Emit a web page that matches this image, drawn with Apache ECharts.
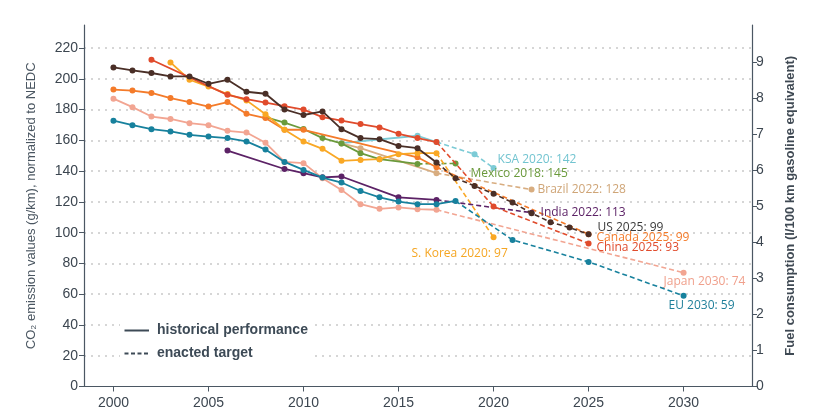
<!DOCTYPE html>
<html><head><meta charset="utf-8">
<script src="https://cdn.jsdelivr.net/npm/echarts@6/dist/echarts.min.js"></script>
<style>html,body{margin:0;padding:0;background:#fff}#c{width:832px;height:420px}</style>
</head><body><div id="c"></div>
<script>
// ---- tick labels ----
const xTicks = [2000, 2005, 2010, 2015, 2020, 2025, 2030];
const yTicks = [0, 20, 40, 60, 80, 100, 120, 140, 160, 180, 200, 220];
const fuelTicks = [0, 1, 2, 3, 4, 5, 6, 7, 8, 9];
const gridValues = [20, 40, 60, 80, 100, 120, 140, 160, 180, 200, 220];
const CO2_PER_FUEL = 23.4; // g/km per l/100 km
const yMax = 235;

// ---- historical performance ----
const usYears = [2000,2001,2002,2003,2004,2005,2006,2007,2008,2009,2010,2011,2012,2013,2014,2015,2016,2017];
const usValues = [207.4,205.5,203.8,201.6,201.6,196.8,199.4,191.6,190.3,180.1,176.5,178.8,167.3,161.5,160.8,156.4,154.9,145.6];
const chinaYears = [2002,2006,2007,2008,2009,2010,2011,2012,2013,2014,2015,2016,2017];
const chinaValues = [212.4,189.6,186.8,184.6,182.2,180.0,175.1,172.9,170.6,168.4,164.3,161.5,158.9];
const canadaYears = [2000,2001,2002,2003,2004,2005,2006,2007,2008,2009,2010,2016,2017];
const canadaValues = [193.0,192.4,190.8,187.5,184.9,182.0,184.9,177.3,174.5,166.9,166.9,149.0,142.5];
const koreaYears = [2003,2004,2005,2006,2007,2008,2009,2010,2011,2012,2013,2014,2015,2016,2017];
const koreaValues = [210.7,199.4,195.0,190.1,186.0,177.0,166.9,159.3,154.5,146.7,147.3,147.8,151.0,151.7,151.7];
const mexicoYears = [2008,2009,2010,2011,2012,2013,2014,2016];
const mexicoValues = [175.1,171.6,167.4,161.5,158.0,151.7,147.8,144.7];
const ksaYears = [2012,2016,2017];
const ksaValues = [158.2,163.0,158.9];
const brazilYears = [2012,2013,2017];
const brazilValues = [158.0,154.9,138.7];
const indiaYears = [2006,2009,2010,2011,2012,2015,2017];
const indiaValues = [153.4,141.4,138.7,136.0,136.5,123.0,121.3];
const euYears = [2000,2001,2002,2003,2004,2005,2006,2007,2008,2009,2010,2011,2012,2013,2014,2015,2016,2017,2018];
const euValues = [172.8,169.9,167.3,165.8,163.6,162.5,161.5,159.3,154.0,146.0,140.8,135.8,132.6,127.1,123.0,120.2,118.5,118.5,120.6];
const japanYears = [2000,2001,2002,2003,2004,2005,2006,2007,2008,2009,2010,2011,2012,2013,2014,2015,2016,2017];
const japanValues = [187.1,181.6,175.5,173.9,171.2,169.9,166.2,165.1,158.4,146.0,145.2,135.4,127.8,118.5,115.5,116.4,115.3,114.9];

// ---- enacted targets ----
const usTargetYears = [2017,2018,2019,2020,2021,2022,2023,2024,2025];
const usTargetValues = [145.6,135.4,130.4,125.3,119.6,112.7,106.8,103.3,99];
const chinaTargetYears = [2017,2020,2025];
const chinaTargetValues = [158.9,117.0,93];
const canadaTargetYears = [2017,2025];
const canadaTargetValues = [142.5,99];
const koreaTargetYears = [2017,2020];
const koreaTargetValues = [151.7,97];
const mexicoTargetYears = [2016,2018];
const mexicoTargetValues = [144.7,145];
const ksaTargetYears = [2017,2019,2020];
const ksaTargetValues = [158.9,151.0,142];
const brazilTargetYears = [2017,2022];
const brazilTargetValues = [138.7,128];
const indiaTargetYears = [2017,2022];
const indiaTargetValues = [121.3,113];
const euTargetYears = [2018,2021,2025,2030];
const euTargetValues = [120.6,95.3,81.0,59];
const japanTargetYears = [2017,2030];
const japanTargetValues = [114.9,74];

// ---- styles ----
const countries = [
  {name:'KSA', color:'#7ccbd6', text:'#72c4d0', hy:ksaYears, hv:ksaValues, ty:ksaTargetYears, tv:ksaTargetValues, off:[1,-8]},
  {name:'Brazil', color:'#d8ad80', text:'#cfa577', hy:brazilYears, hv:brazilValues, ty:brazilTargetYears, tv:brazilTargetValues, off:[3,0]},
  {name:'Mexico', color:'#6b9a3c', text:'#6b9a3c', hy:mexicoYears, hv:mexicoValues, ty:mexicoTargetYears, tv:mexicoTargetValues, off:[12,10]},
  {name:'Canada', color:'#f47b2a', text:'#f47b2a', hy:canadaYears, hv:canadaValues, ty:canadaTargetYears, tv:canadaTargetValues, off:[5,3]},
  {name:'S. Korea', color:'#f9a825', text:'#f5a623', hy:koreaYears, hv:koreaValues, ty:koreaTargetYears, tv:koreaTargetValues, off:[-85,16]},
  {name:'India', color:'#5c2266', text:'#5c2266', hy:indiaYears, hv:indiaValues, ty:indiaTargetYears, tv:indiaTargetValues, off:[6,0]},
  {name:'Japan', color:'#f2a592', text:'#f0a08c', hy:japanYears, hv:japanValues, ty:japanTargetYears, tv:japanTargetValues, off:[-23,9]},
  {name:'EU', color:'#17819d', text:'#1f7f9a', hy:euYears, hv:euValues, ty:euTargetYears, tv:euTargetValues, off:[-18,10]},
  {name:'China', color:'#e04b2c', text:'#e04b2c', hy:chinaYears, hv:chinaValues, ty:chinaTargetYears, tv:chinaTargetValues, off:[5,4]},
  {name:'US', color:'#4a2f27', text:'#3a3a3a', hy:usYears, hv:usValues, ty:usTargetYears, tv:usTargetValues, off:[6,-7]}
];

const series = [];
// gridlines via markLine on a carrier series
series.push({
  type:'line', data:[], silent:true, z:0,
  markLine:{silent:true, symbol:'none', z:0, label:{show:false},
    lineStyle:{color:'#c9c9c9', type:[2,5], width:1.6},
    data: gridValues.map(v => ({yAxis:v}))}
});
countries.forEach((c, i) => {
  series.push({
    type:'line', name:c.name+' hist', z:3+i,
    data: c.hy.map((y, k) => [y, c.hv[k]]),
    symbol:'circle', symbolSize:6, showSymbol:true,
    lineStyle:{color:c.color, width:1.8},
    itemStyle:{color:c.color},
    animation:false
  });
  const n = c.ty.length;
  series.push({
    type:'line', name:c.name+' target', z:3+i,
    data: c.ty.map((y, k) => {
      const d = {value:[y, c.tv[k]]};
      if (k === 0) d.symbolSize = 0;
      if (k === n - 1) {
        d.label = {show:true, position:'right', distance:0, offset:c.off,
          formatter: c.name + ' ' + y + ': ' + c.tv[k],
          color:c.text, fontFamily:'Open Sans', fontSize:12};
      }
      return d;
    }),
    symbol:'circle', symbolSize:6, showSymbol:true,
    lineStyle:{color:c.color, width:1.6, type:[5,3]},
    itemStyle:{color:c.color},
    animation:false
  });
});

const axisColor = '#4b5763';
const labelColor = '#3c4650';
const chart = echarts.init(document.getElementById('c'), null, {renderer:'canvas'});
chart.setOption({
  animation:false,
  backgroundColor:'#fff',
  grid:{left:84, right:80, top:25, bottom:33.5, containLabel:false},
  xAxis:{type:'value', min:1998.45, max:2033.6,
    axisLine:{show:true, lineStyle:{color:axisColor, width:1.2}},
    axisTick:{show:true, length:5, customValues:xTicks, lineStyle:{color:axisColor}},
    axisLabel:{customValues:xTicks, formatter: v => String(v), color:labelColor, fontSize:14, fontFamily:'Liberation Sans', margin:10},
    splitLine:{show:false}},
  yAxis:[{type:'value', min:0, max:yMax, position:'left',
    name:'CO₂ emission values (g/km), normalized to NEDC', nameLocation:'middle', nameGap:46, nameRotate:90,
    nameTextStyle:{color:'#4a5661', fontSize:13, fontFamily:'Liberation Sans'},
    axisLine:{show:true, lineStyle:{color:axisColor, width:1.2}},
    axisTick:{show:true, length:5, customValues:yTicks, lineStyle:{color:axisColor}},
    axisLabel:{customValues:yTicks, formatter: v => String(v), color:labelColor, fontSize:14, fontFamily:'Liberation Sans', margin:6},
    splitLine:{show:false}},
   {type:'value', min:0, max:yMax/CO2_PER_FUEL, position:'right',
    name:'Fuel consumption (l/100 km gasoline equivalent)', nameLocation:'middle', nameGap:32, nameRotate:90,
    nameTextStyle:{color:'#3f4953', fontSize:13, fontWeight:'bold', fontFamily:'Liberation Sans'},
    axisLine:{show:true, lineStyle:{color:axisColor, width:1.2}},
    axisTick:{show:true, length:5, customValues:fuelTicks, lineStyle:{color:axisColor}},
    axisLabel:{customValues:fuelTicks, formatter: v => String(v), color:labelColor, fontSize:14, fontFamily:'Liberation Sans', margin:4},
    splitLine:{show:false}}],
  series: series,
  graphic:[
    {type:'rect', z:100, shape:{x:120, y:316, width:194, height:48}, style:{fill:'#fff'}},
    {type:'line', z:101, shape:{x1:124.5, y1:330.5, x2:149, y2:330.5}, style:{stroke:'#3d4a56', lineWidth:2}},
    {type:'line', z:101, shape:{x1:124.5, y1:353.5, x2:149, y2:353.5}, style:{stroke:'#3d4a56', lineWidth:2, lineDash:[4,2.5]}},
    {type:'text', z:101, x:157, y:330.5, style:{text:'historical performance', fill:'#3d4a56', font:'bold 14px "Liberation Sans"', verticalAlign:'middle'}},
    {type:'text', z:101, x:157, y:353.5, style:{text:'enacted target', fill:'#3d4a56', font:'bold 14px "Liberation Sans"', verticalAlign:'middle'}}
  ]
});
</script>
</body></html>
